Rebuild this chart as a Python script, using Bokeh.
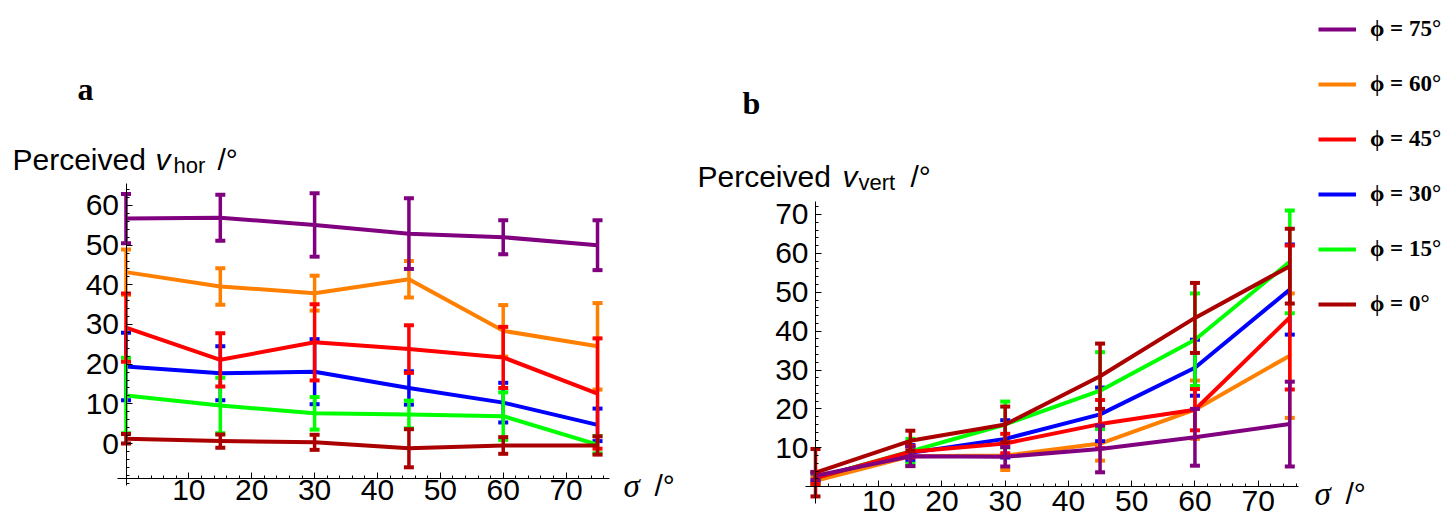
from bokeh.plotting import figure
from bokeh.models import (LinearAxis, FixedTicker, Label, Legend, LegendItem,
                          ColumnDataSource, Range1d)
from bokeh.embed import file_html
from bokeh.resources import INLINE

# ---------------- data ----------------
sigma = [0, 15, 30, 45, 60, 75]
phi_labels = ["ϕ = 75°", "ϕ = 60°", "ϕ = 45°", "ϕ = 30°", "ϕ = 15°", "ϕ = 0°"]
colors = ["#800080", "#FF8000", "#FF0000", "#0000FF", "#00FF00", "#AA0000"]

# panel a: perceived v_hor
hor_phi75 = [56.7, 56.9, 55.1, 52.9, 52.0, 50.0]
hor_phi75_err = [6.2, 5.8, 8.0, 8.9, 4.3, 6.3]
hor_phi60 = [43.2, 39.6, 37.9, 41.4, 28.4, 24.5]
hor_phi60_err = [5.7, 4.6, 4.4, 4.6, 6.5, 10.9]
hor_phi45 = [29.2, 21.1, 25.5, 23.8, 21.7, 12.6]
hor_phi45_err = [8.6, 6.7, 9.6, 6.0, 7.7, 13.9]
hor_phi30 = [19.4, 17.7, 18.1, 14.0, 10.3, 4.7]
hor_phi30_err = [8.5, 6.8, 8.2, 4.2, 5.0, 4.1]
hor_phi15 = [12.1, 9.6, 7.6, 7.3, 6.9, -0.3]
hor_phi15_err = [9.5, 7.0, 4.1, 3.5, 6.0, 2.2]
hor_phi0 = [1.2, 0.6, 0.3, -1.2, -0.5, -0.5]
hor_phi0_err = [1.2, 1.7, 1.9, 4.8, 2.1, 2.3]

# panel b: perceived v_vert
vert_phi75 = [2.8, 7.8, 7.7, 9.7, 12.7, 16.1]
vert_phi75_err = [1.0, 2.5, 2.5, 6.0, 7.3, 10.9]
vert_phi60 = [1.5, 7.8, 8.0, 11.1, 19.8, 33.7]
vert_phi60_err = [1.0, 2.5, 3.7, 4.4, 7.5, 16.0]
vert_phi45 = [2.2, 9.0, 11.1, 16.1, 19.8, 43.5]
vert_phi45_err = [1.5, 1.5, 2.5, 6.2, 5.3, 18.5]
vert_phi30 = [2.4, 8.7, 12.3, 18.6, 30.6, 50.7]
vert_phi30_err = [1.0, 2.0, 4.8, 6.9, 7.2, 11.6]
vert_phi15 = [2.2, 9.1, 16.0, 24.7, 37.8, 57.8]
vert_phi15_err = [1.5, 3.2, 5.9, 9.9, 11.9, 13.2]
vert_phi0 = [3.6, 11.8, 16.0, 28.4, 43.4, 56.7]
vert_phi0_err = [6.1, 2.6, 4.6, 8.4, 9.0, 9.6]

hor_vals = [hor_phi75, hor_phi60, hor_phi45, hor_phi30, hor_phi15, hor_phi0]
hor_errs = [hor_phi75_err, hor_phi60_err, hor_phi45_err, hor_phi30_err, hor_phi15_err, hor_phi0_err]
vert_vals = [vert_phi75, vert_phi60, vert_phi45, vert_phi30, vert_phi15, vert_phi0]
vert_errs = [vert_phi75_err, vert_phi60_err, vert_phi45_err, vert_phi30_err, vert_phi15_err, vert_phi0_err]

a_y_ticks = [0, 10, 20, 30, 40, 50, 60]
b_y_ticks = [10, 20, 30, 40, 50, 60, 70]
x_ticks = [10, 20, 30, 40, 50, 60, 70]

# ---------------- layout constants (pixels) ----------------
W, H = 1452, 513
# panel a: pixel of the origin and pixels per unit
A_X0, A_PX = 125.5, 6.287
A_Y0, A_PY = 443.0, 3.967
# panel b
B_X0, B_PX = 815.0, 6.324
B_Y0, B_PY = 486.2, 3.889

A_XR = (-A_X0 / A_PX, (W - A_X0) / A_PX)
A_YR = ((A_Y0 - H) / A_PY, A_Y0 / A_PY)
B_XR = (-B_X0 / B_PX, (W - B_X0) / B_PX)
B_YR = ((B_Y0 - H) / B_PY, B_Y0 / B_PY)

ORDER = [1, 3, 4, 2, 0, 5]   # drawing order (last on top)
SANS = "Liberation Sans"
SERIF = "Liberation Serif"

p = figure(width=W, height=H, x_range=Range1d(*A_XR), y_range=Range1d(*A_YR),
           x_axis_location=None, y_axis_location=None, title=None,
           toolbar_location=None, output_backend="svg",
           min_border_left=0, min_border_right=0, min_border_top=0, min_border_bottom=0)
p.extra_x_ranges = {"b": Range1d(*B_XR)}
p.extra_y_ranges = {"b": Range1d(*B_YR)}
p.outline_line_color = None
p.grid.visible = False
p.background_fill_color = "white"
p.border_fill_color = "white"


def axis_style():
    return dict(major_label_text_font=SANS, major_label_text_font_size="30px",
                major_label_text_color="black", axis_line_color="black",
                major_tick_line_color="black", minor_tick_line_color="black",
                axis_line_width=1)


def add_axes(rn, yticks, yminor, ybounds, xticks, xminor, xbounds, x_loc, x_standoff):
    yax = LinearAxis(ticker=FixedTicker(ticks=yticks, minor_ticks=yminor),
                     x_range_name=rn, y_range_name=rn,
                     fixed_location=0, bounds=ybounds,
                     major_tick_in=6, major_tick_out=0, minor_tick_in=3, minor_tick_out=0,
                     major_label_standoff=7, **axis_style())
    p.add_layout(yax, "left")
    xax = LinearAxis(ticker=FixedTicker(ticks=xticks, minor_ticks=xminor),
                     x_range_name=rn, y_range_name=rn,
                     fixed_location=x_loc, bounds=xbounds,
                     major_tick_in=6, major_tick_out=0, minor_tick_in=3, minor_tick_out=0,
                     major_label_standoff=x_standoff, **axis_style())
    p.add_layout(xax, "below")


def draw_series(rn, vals, errs, color):
    lo = [v - e for v, e in zip(vals, errs)]
    hi = [v + e for v, e in zip(vals, errs)]
    src = ColumnDataSource(dict(x=sigma, y=vals, lo=lo, hi=hi))
    kw = dict(source=src, x_range_name=rn, y_range_name=rn)
    p.segment(x0="x", y0="lo", x1="x", y1="hi", line_color=color, line_width=3.5, **kw)
    p.scatter("x", "lo", marker="dash", size=10, line_color=color, line_width=4, **kw)
    p.scatter("x", "hi", marker="dash", size=10, line_color=color, line_width=4, **kw)
    return p.line("x", "y", line_color=color, line_width=4, line_join="round", **kw)


def fx(px):
    return A_XR[0] + px * (A_XR[1] - A_XR[0]) / W


def fy(py):
    return A_YR[1] - py * (A_YR[1] - A_YR[0]) / H


def add_text(px, py, text, font=SANS, size="30px", style="normal"):
    p.add_layout(Label(x=fx(px), y=fy(py), text=text, text_font=font,
                       text_font_size=size, text_font_style=style,
                       text_align="left", text_baseline="alphabetic",
                       text_color="black"))


# ---------------- panel a ----------------
add_axes("default", a_y_ticks, list(range(-10, 66, 2)), (-10.59, 65.54),
         x_ticks, list(range(0, 77, 2)), (-1.35, 76.9), -8.9, 1)
for i in ORDER:
    draw_series("default", hor_vals[i], hor_errs[i], colors[i])
add_text(77, 88, "a", font=SERIF, size="32px", style="bold")
add_text(12, 159, "Perceived")
add_text(155, 159, "v", style="italic")
add_text(173, 165, "hor", size="22px")
add_text(217, 159, "/°")
add_text(623, 485, "σ", font=SERIF, size="33px", style="italic")
add_text(654, 485, "/°")

# ---------------- panel b ----------------
add_axes("b", b_y_ticks, list(range(0, 74, 2)), (-4.32, 73.34),
         x_ticks, list(range(0, 77, 2)), (-1.58, 76.37), 0, 4)
renderers = {}
for i in ORDER:
    renderers[i] = draw_series("b", vert_vals[i], vert_errs[i], colors[i])
add_text(742, 102, "b", font=SERIF, size="32px", style="bold")
add_text(697, 176, "Perceived")
add_text(842, 176, "v", style="italic")
add_text(858, 182, "vert", size="22px")
add_text(910, 176, "/°")
add_text(1314, 493, "σ", font=SERIF, size="33px", style="italic")
add_text(1345, 493, "/°")

legend = Legend(items=[LegendItem(label=phi_labels[i], renderers=[renderers[i]]) for i in range(6)],
                location=(1318, H - 318.3),
                label_text_font=SERIF, label_text_font_style="bold",
                label_text_font_size="23px", label_text_color="black",
                glyph_width=38, glyph_height=28, label_height=28, label_standoff=14,
                spacing=27, padding=0, margin=0,
                border_line_color=None, background_fill_alpha=0)
p.add_layout(legend)

open("out.html", "w").write(file_html(p, INLINE))
